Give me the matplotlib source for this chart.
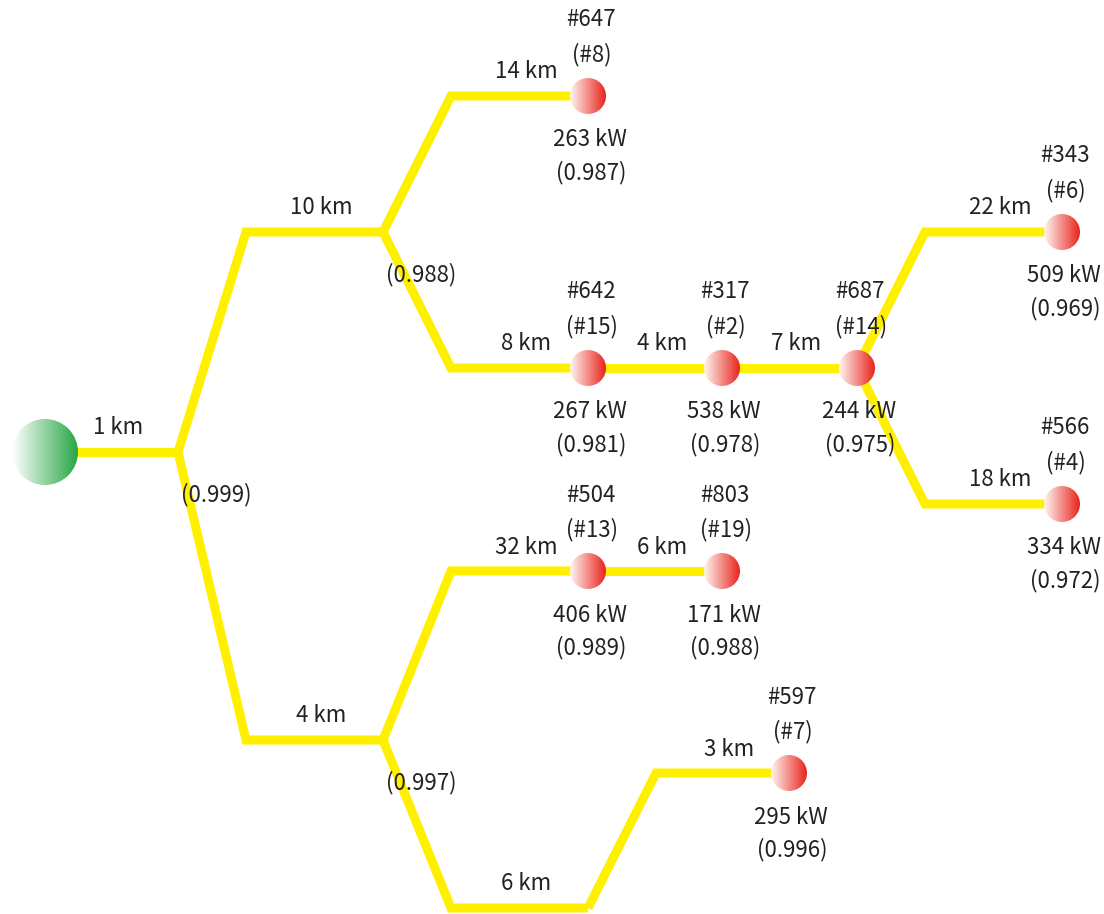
import numpy as np
import matplotlib
matplotlib.use("Agg")
import matplotlib.pyplot as plt
from matplotlib.patches import Circle
from matplotlib.colors import LinearSegmentedColormap

plt.rcParams['font.family'] = ['Noto Sans CJK JP', 'DejaVu Sans']

# tree data: parent index, line length, node id, sub id, power, reliability
parents = [-1, 0, 1, 1, 2, 2, 5, 6, 7, 7, 3, 10, 3, 12]
kinds = ['root', 'junc', 'junc', 'junc', 'node', 'node', 'node', 'node', 'node', 'node',
         'node', 'node', 'bend', 'node']
dist_km = [None, 1, 10, 4, 14, 8, 4, 7, 22, 18, 32, 6, 6, 3]
node_ids = [None, None, None, None, '#647', '#642', '#317', '#687', '#343', '#566',
            '#504', '#803', None, '#597']
sub_ids = [None, None, None, None, '(#8)', '(#15)', '(#2)', '(#14)', '(#6)', '(#4)',
           '(#13)', '(#19)', None, '(#7)']
power_kw = [None, None, None, None, 263, 267, 538, 244, 509, 334, 406, 171, None, 295]
reliab = [None, 0.999, 0.988, 0.997, 0.987, 0.981, 0.978, 0.975, 0.969, 0.972,
          0.989, 0.988, None, 0.996]

# layout (pixels)
node_x = [45, 178, 383, 383, 588, 588, 722, 857, 1062, 1062, 588, 722, 588, 789]
node_y = [452, 452, 232, 740, 96, 368, 368, 368, 232, 504, 571, 571, 908, 773]

yellow = '#fff000'
txt = '#222222'
fs = 16

fig = plt.figure(figsize=(11.04, 9.14), dpi=100)
ax = fig.add_axes([0, 0, 1, 1])
ax.set_xlim(0, 1104)
ax.set_ylim(914, 0)
ax.axis('off')

# edges
for i, p in enumerate(parents):
    if p < 0:
        continue
    px, py = node_x[p], node_y[p]
    cx, cy = node_x[i], node_y[i]
    if py == cy:
        xs, ys = [px, cx], [py, cy]
        hx0 = px
    else:
        hx0 = px + 68
        xs, ys = [px, hx0, cx], [py, cy, cy]
    ax.plot(xs, ys, color=yellow, lw=6.5, solid_joinstyle='miter',
            solid_capstyle='butt', zorder=1)
    ax.text((hx0 + cx) / 2 + 7, cy - 24, f'{dist_km[i]} km', ha='center',
            va='center', fontsize=fs, color=txt, zorder=5)


def grad_circle(x, y, r, c0, c1):
    cmap = LinearSegmentedColormap.from_list('g', [c0, c1])
    g = np.tile(np.linspace(0, 1, 64), (64, 1))
    im = ax.imshow(g, cmap=cmap, extent=(x - r, x + r, y + r, y - r),
                   interpolation='bilinear', zorder=3)
    clip = Circle((x, y), r, transform=ax.transData)
    im.set_clip_path(clip)


for i, k in enumerate(kinds):
    x, y = node_x[i], node_y[i]
    if k == 'root':
        grad_circle(x, y, 33, '#ffffff', '#28a745')
    elif k == 'node':
        grad_circle(x, y, 18, '#fff4f0', '#e8261e')
        ax.text(x + 3, y - 76, node_ids[i], ha='center', va='center', fontsize=fs, color=txt)
        ax.text(x + 4, y - 41, sub_ids[i], ha='center', va='center', fontsize=fs, color=txt)
        ax.text(x + 2, y + 44, f'{power_kw[i]} kW', ha='center', va='center', fontsize=fs, color=txt)
        ax.text(x + 3, y + 77, f'({reliab[i]:.3f})', ha='center', va='center', fontsize=fs, color=txt)
    elif k == 'junc':
        ax.text(x + 3, y + 43, f'({reliab[i]:.3f})', ha='left', va='center', fontsize=fs,
                color=txt, zorder=5)

ax.set_xlim(0, 1104)
ax.set_ylim(914, 0)
fig.savefig('out.png', dpi=100)
